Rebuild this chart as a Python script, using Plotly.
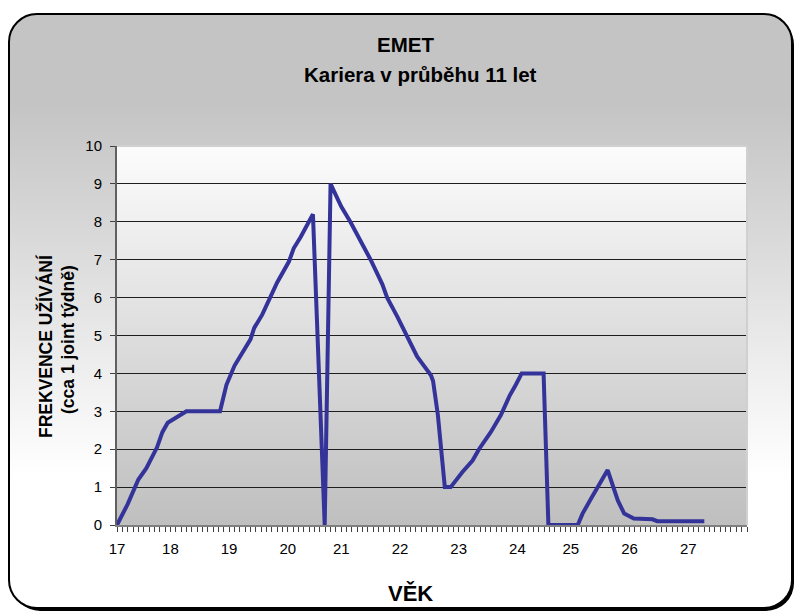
import base64
import plotly.graph_objects as go

# Observation index (one step per tick mark on the category axis) and usage frequency
obs_index = [0, 2, 4, 5.5, 7.5, 8.5, 9.5, 13, 19.3, 20.5, 22, 25, 25.7, 27.2, 30, 32.2,
             33.1, 34.4, 36.7, 38.9, 40, 41, 42, 43.7, 45.9, 47.5, 49.7, 50.6, 52.5,
             56.2, 57.5, 58.8, 59.2, 60.1, 61.4, 62.5, 64.7, 66.6, 67.8, 70, 71.9, 73.5,
             74.7, 75.8, 79.9, 80.8, 86.3, 87.2, 88.8, 91.9, 93.8, 95, 96.8, 100.3,
             101.2, 110]
frequency = [0, 0.55, 1.2, 1.5, 2.05, 2.45, 2.7, 3, 3, 3.7, 4.2, 4.9, 5.2, 5.55, 6.4, 6.95,
             7.3, 7.6, 8.2, 0, 9, 8.7, 8.4, 8.0, 7.45, 7.0, 6.35, 6.0, 5.5,
             4.45, 4.2, 3.95, 3.8, 2.9, 1, 1, 1.4, 1.7, 2.0, 2.45, 2.9, 3.4,
             3.7, 4, 4, 0, 0, 0.3, 0.7, 1.45, 0.65, 0.3, 0.17, 0.15,
             0.1, 0.1]

# Age labels shown on the category axis and the observation they sit under
age_labels = ["17", "18", "19", "20", "21", "22", "23", "24", "25", "26", "27"]
age_label_index = [0, 10, 21, 32, 42, 53, 64, 75, 85, 96, 107]
n_categories = 118

y_ticks = list(range(0, 11))

W, H = 797, 616
ML, MR, MT, MB = 117, 50, 146, 91
PW, PH = W - ML - MR, H - MT - MB


def svg_uri(svg):
    return "data:image/svg+xml;base64," + base64.b64encode(svg.encode("utf-8")).decode("ascii")


# Rounded chart frame with a grey-to-white vertical gradient and a drop shadow
frame_svg = f"""<svg xmlns='http://www.w3.org/2000/svg' width='{W}' height='{H}' viewBox='0 0 {W} {H}'>
<defs><linearGradient id='g' x1='0' y1='0' x2='0' y2='1'>
<stop offset='0' stop-color='#c4c4c4'/><stop offset='0.15' stop-color='#c4c4c4'/>
<stop offset='0.78' stop-color='#ffffff'/><stop offset='1' stop-color='#ffffff'/>
</linearGradient></defs>
<rect x='12' y='17' width='782' height='594' rx='28' ry='28' fill='#000000'/>
<rect x='9' y='14' width='783' height='594' rx='28' ry='28' fill='url(#g)' stroke='#000000' stroke-width='2'/>
</svg>"""

# Plot area: white at the top fading to grey at the bottom
plot_svg = f"""<svg xmlns='http://www.w3.org/2000/svg' width='{PW}' height='{PH}' viewBox='0 0 {PW} {PH}' preserveAspectRatio='none'>
<defs><linearGradient id='p' x1='0' y1='0' x2='0' y2='1'>
<stop offset='0' stop-color='#fcfcfc'/><stop offset='1' stop-color='#bfbfbf'/>
</linearGradient></defs>
<rect x='0' y='0' width='{PW}' height='{PH}' fill='url(#p)'/>
</svg>"""

fig = go.Figure()
fig.add_trace(go.Scatter(
    x=obs_index, y=frequency, mode="lines",
    line=dict(color="#333399", width=4),
    hoverinfo="skip", showlegend=False,
))

font = "Liberation Sans, Arial, sans-serif"


def px_x(p):
    return (p - ML) / PW


def px_y(p):
    return (H - MB - p) / PH


fig.update_layout(
    width=W, height=H,
    margin=dict(l=ML, r=MR, t=MT, b=MB, pad=0),
    paper_bgcolor="#ffffff",
    plot_bgcolor="rgba(0,0,0,0)",
    font=dict(family=font, color="#000000", size=14),
    images=[
        dict(source=svg_uri(frame_svg), xref="paper", yref="paper",
             x=-ML / PW, y=1 + MT / PH, sizex=W / PW, sizey=H / PH,
             xanchor="left", yanchor="top", sizing="stretch", layer="below"),
        dict(source=svg_uri(plot_svg), xref="paper", yref="paper",
             x=0, y=1, sizex=1, sizey=1,
             xanchor="left", yanchor="top", sizing="stretch", layer="below"),
    ],
    xaxis=dict(
        range=[0, n_categories], showgrid=False, zeroline=False,
        tickmode="array", tickvals=age_label_index, ticktext=age_labels,
        ticks="outside", ticklen=5, tickwidth=1, tickcolor="#404040",
        ticklabelstandoff=4,
        tickfont=dict(size=15, family=font, color="#000000"),
        showline=True, linecolor="#808080", linewidth=2,
        minor=dict(tickmode="linear", tick0=0, dtick=1, ticks="outside",
                   ticklen=5, tickwidth=1, tickcolor="#404040", showgrid=False),
        fixedrange=True,
    ),
    yaxis=dict(
        range=[0, 10], tickmode="array", tickvals=y_ticks,
        showgrid=True, gridcolor="#1e1e1e", gridwidth=1, zeroline=False,
        ticks="outside", ticklen=5, tickwidth=1, tickcolor="#404040",
        ticklabelstandoff=5,
        tickfont=dict(size=15, family=font, color="#000000"),
        showline=True, linecolor="#606060", linewidth=2,
        fixedrange=True,
    ),
    shapes=[
        dict(type="line", xref="x domain", yref="y domain", x0=0, x1=1, y0=1, y1=1,
             line=dict(color="#d0d0d0", width=2), layer="above"),
        dict(type="line", xref="x domain", yref="y domain", x0=1, x1=1, y0=0, y1=1,
             line=dict(color="#d0d0d0", width=2), layer="above"),
    ],
    annotations=[
        dict(text="<b>EMET</b>", xref="paper", yref="paper", x=px_x(405), y=px_y(45),
             xanchor="center", yanchor="middle", showarrow=False,
             font=dict(size=20.5, family=font)),
        dict(text="<b>Kariera v průběhu 11 let</b>", xref="paper", yref="paper",
             x=px_x(420), y=px_y(75), xanchor="center", yanchor="middle",
             showarrow=False, font=dict(size=20.5, family=font)),
        dict(text="<b>FREKVENCE UŽÍVÁNÍ</b>", xref="paper", yref="paper",
             x=px_x(45), y=px_y(346), xanchor="center", yanchor="middle",
             textangle=-90, showarrow=False, font=dict(size=17.5, family=font)),
        dict(text="<b>(cca 1 joint týdně)</b>", xref="paper", yref="paper",
             x=px_x(68), y=px_y(340), xanchor="center", yanchor="middle",
             textangle=-90, showarrow=False, font=dict(size=17.5, family=font)),
        dict(text="<b>VĚK</b>", xref="paper", yref="paper",
             x=px_x(410), y=px_y(593), xanchor="center", yanchor="middle",
             showarrow=False, font=dict(size=22, family=font)),
    ],
)

fig.write_html("out.html")
